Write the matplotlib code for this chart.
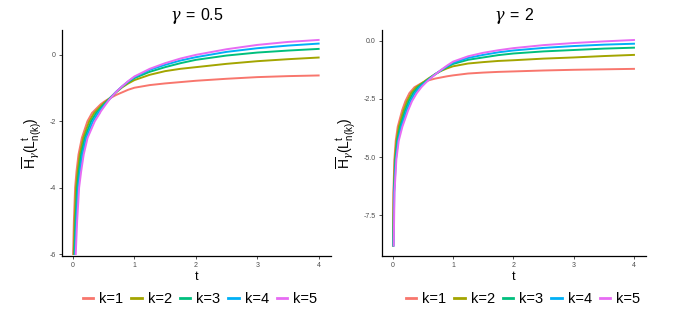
import numpy as np
import matplotlib
matplotlib.use("Agg")
import matplotlib.pyplot as plt

plt.rcParams['font.family'] = ['Liberation Sans', 'DejaVu Sans']
plt.rcParams['mathtext.fontset'] = 'custom'
plt.rcParams['mathtext.rm'] = 'Liberation Sans'
plt.rcParams['mathtext.it'] = 'DejaVu Serif:italic'
plt.rcParams['axes.unicode_minus'] = False

# ---------------- data ----------------
k_labels = ["k=1", "k=2", "k=3", "k=4", "k=5"]
colors = ["#F8766D", "#A3A500", "#00BF7D", "#00B0F6", "#E76BF3"]

titles = [r"$\gamma\,=\,0.5$", r"$\gamma\,=\,2$"]

# gamma = 0.5 : steep part (t read at given y levels), then y read on a t grid
left_head_y = [-6.0, -5.0, -4.0, -3.5, -3.0, -2.5, -2.0, -1.75]
left_head_t_k1 = [0.002, 0.015, 0.035, 0.058, 0.090, 0.145, 0.235, 0.310]
left_head_t_k2 = [0.013, 0.028, 0.051, 0.077, 0.111, 0.168, 0.265, 0.345]
left_head_t_k3 = [0.024, 0.042, 0.068, 0.096, 0.132, 0.192, 0.295, 0.378]
left_head_t_k4 = [0.034, 0.055, 0.084, 0.115, 0.154, 0.215, 0.325, 0.410]
left_head_t_k5 = [0.045, 0.068, 0.100, 0.134, 0.175, 0.238, 0.355, 0.440]
left_tail_t = [0.45, 0.5, 0.55, 0.6, 0.7, 0.8, 0.9, 1.0, 1.25, 1.5, 1.75, 2.0, 2.5, 3.0, 3.5, 4.0]
left_tail_k1 = [-1.49, -1.42, -1.36, -1.31, -1.21, -1.13, -1.05, -0.99, -0.91, -0.86, -0.82, -0.78, -0.72, -0.67, -0.64, -0.62]
left_tail_k2 = [-1.55, -1.46, -1.38, -1.30, -1.13, -0.98, -0.86, -0.76, -0.60, -0.49, -0.42, -0.37, -0.27, -0.19, -0.13, -0.08]
left_tail_k3 = [-1.60, -1.50, -1.41, -1.31, -1.12, -0.96, -0.82, -0.70, -0.51, -0.37, -0.25, -0.15, -0.02, 0.07, 0.13, 0.18]
left_tail_k4 = [-1.65, -1.54, -1.43, -1.32, -1.12, -0.95, -0.80, -0.67, -0.45, -0.30, -0.17, -0.07, 0.09, 0.20, 0.28, 0.34]
left_tail_k5 = [-1.71, -1.58, -1.45, -1.33, -1.12, -0.95, -0.79, -0.65, -0.42, -0.25, -0.11, 0.00, 0.17, 0.30, 0.39, 0.45]

# gamma = 2
right_head_y = [-8.8, -6.5, -5.1, -4.3, -3.7, -3.0, -2.6, -2.25, -2.0]
right_head_t_k1 = [0.004, 0.012, 0.028, 0.050, 0.083, 0.155, 0.210, 0.277, 0.360]
right_head_t_k2 = [0.007, 0.017, 0.036, 0.063, 0.102, 0.180, 0.238, 0.308, 0.389]
right_head_t_k3 = [0.010, 0.021, 0.045, 0.075, 0.122, 0.205, 0.265, 0.339, 0.418]
right_head_t_k4 = [0.014, 0.026, 0.053, 0.088, 0.141, 0.230, 0.293, 0.369, 0.446]
right_head_t_k5 = [0.017, 0.030, 0.061, 0.100, 0.160, 0.255, 0.320, 0.400, 0.475]
right_tail_t = [0.5, 0.55, 0.6, 0.7, 0.8, 0.9, 1.0, 1.25, 1.5, 1.75, 2.0, 2.5, 3.0, 3.5, 4.0]
right_tail_k1 = [-1.79, -1.74, -1.70, -1.63, -1.58, -1.53, -1.49, -1.41, -1.37, -1.34, -1.32, -1.28, -1.25, -1.23, -1.21]
right_tail_k2 = [-1.80, -1.70, -1.61, -1.44, -1.30, -1.19, -1.10, -0.98, -0.92, -0.87, -0.84, -0.77, -0.72, -0.66, -0.61]
right_tail_k3 = [-1.84, -1.74, -1.64, -1.45, -1.28, -1.13, -1.00, -0.82, -0.72, -0.62, -0.55, -0.46, -0.40, -0.34, -0.30]
right_tail_k4 = [-1.88, -1.77, -1.66, -1.45, -1.27, -1.10, -0.95, -0.74, -0.61, -0.50, -0.42, -0.31, -0.23, -0.17, -0.13]
right_tail_k5 = [-1.93, -1.80, -1.68, -1.46, -1.26, -1.07, -0.90, -0.67, -0.52, -0.41, -0.32, -0.19, -0.10, -0.03, 0.03]

left_yticks = [-6, -4, -2, 0]
left_yticklabels = ["-6", "-4", "-2", "0"]
right_yticks = [-7.5, -5.0, -2.5, 0.0]
right_yticklabels = ["-7.5", "-5.0", "-2.5", "0.0"]
xticks = [0, 1, 2, 3, 4]
xticklabels = ["0", "1", "2", "3", "4"]

panels = [
    dict(head_y=left_head_y,
         head_t=[left_head_t_k1, left_head_t_k2, left_head_t_k3, left_head_t_k4, left_head_t_k5],
         tail_t=left_tail_t,
         tail_y=[left_tail_k1, left_tail_k2, left_tail_k3, left_tail_k4, left_tail_k5],
         ylim=(-6.06, 0.75), yticks=left_yticks, yticklabels=left_yticklabels,
         rect=[0.090, 0.1924, 0.391, 0.713], leg_x=200 / 688),
    dict(head_y=right_head_y,
         head_t=[right_head_t_k1, right_head_t_k2, right_head_t_k3, right_head_t_k4, right_head_t_k5],
         tail_t=right_tail_t,
         tail_y=[right_tail_k1, right_tail_k2, right_tail_k3, right_tail_k4, right_tail_k5],
         ylim=(-9.25, 0.46), yticks=right_yticks, yticklabels=right_yticklabels,
         rect=[0.555, 0.1924, 0.384, 0.713], leg_x=523 / 688),
]

fig = plt.figure(figsize=(6.88, 3.17), dpi=100)
fig.patch.set_facecolor("white")

for p, title in zip(panels, titles):
    ax = fig.add_axes(p["rect"])
    handles = []
    for i in range(5):
        t = np.r_[p["head_t"][i], p["tail_t"]]
        y = np.r_[p["head_y"], p["tail_y"][i]]
        h, = ax.plot(t, y, color=colors[i], lw=1.4, label=k_labels[i])
        handles.append(h)
    ax.set_xlim(-0.18, 4.2)
    ax.set_ylim(*p["ylim"])
    ax.set_xticks(xticks)
    ax.set_xticklabels(xticklabels)
    ax.set_yticks(p["yticks"])
    ax.set_yticklabels(p["yticklabels"])
    for s in ["top", "right"]:
        ax.spines[s].set_visible(False)
    for s in ["left", "bottom"]:
        ax.spines[s].set_linewidth(0.9)
        ax.spines[s].set_color("black")
    ax.tick_params(axis="both", length=2.5, width=0.6, colors="#333333",
                   labelsize=5, pad=2, labelcolor="#4D4D4D")
    ax.set_title(title, fontsize=11.5, pad=7)
    ax.set_xlabel("t", fontsize=9, labelpad=1)
    ax.set_ylabel(r"$\overline{\mathrm{H}}_{\gamma}(\mathrm{L}^{\mathrm{t}}_{\mathrm{n(k)}})$",
                  fontsize=10, labelpad=4)
    leg = fig.legend(handles=handles, labels=k_labels, loc="center",
                     bbox_to_anchor=(p["leg_x"], 1 - 299 / 317), ncol=5,
                     frameon=False, fontsize=10.5, handlelength=0.72,
                     handletextpad=0.4, columnspacing=0.55, borderaxespad=0,
                     borderpad=0)
    for line in leg.get_lines():
        line.set_linewidth(2.0)

fig.savefig("out.png", dpi=100, facecolor="white")
